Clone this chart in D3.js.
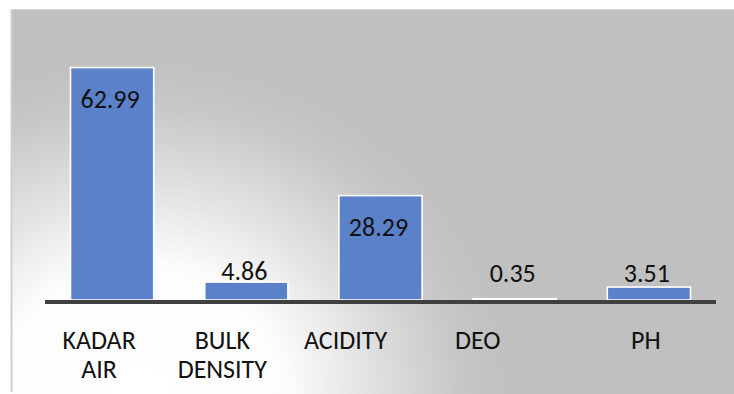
<!DOCTYPE html>
<html>
<head>
<meta charset="utf-8">
<script src="https://cdn.jsdelivr.net/npm/d3@7"></script>
<style>
  html, body { margin: 0; padding: 0; background: #ffffff; }
  svg { display: block; }
  text { font-family: Carlito, Calibri, Lato, "Noto Sans", sans-serif; fill: #111111; }
</style>
</head>
<body>
<svg id="chart" width="734" height="394"></svg>
<script>
// Category labels (each entry is one label, split into lines)
const categories = ["KADAR AIR", "BULK DENSITY", "ACIDITY", "DEO", "PH"];
const categoryLines = [["KADAR", "AIR"], ["BULK", "DENSITY"], ["ACIDITY"], ["DEO"], ["PH"]];
// Measured values
const values = [62.99, 4.86, 28.29, 0.35, 3.51];
// Value axis extent (axis itself is hidden)
const valueDomain = [0, 70];
// Horizontal nudge of each category label relative to its bar centre
const labelNudge = [-13, -24, -35, -37, -3];

const W = 734, H = 394;
const panel = { x: 11, y: 9 };
const plot = { left: 45, right: 716, top: 41.7, bottom: 300 };
const fontSize = 26;

const svg = d3.select("#chart");
const defs = svg.append("defs");

// Soft radial light from the lower left of the panel
const grad = defs.append("radialGradient")
  .attr("id", "bg")
  .attr("gradientUnits", "userSpaceOnUse")
  .attr("cx", 140).attr("cy", 400).attr("r", 340)
  .attr("gradientTransform", "translate(140,400) scale(1.08,1) translate(-140,-400)");
[[0, "#ffffff"], [0.4, "#fcfcfc"], [0.64, "#e0e0e0"], [0.86, "#c8c8c8"], [1, "#c0c0c0"]]
  .forEach(([o, c]) => grad.append("stop").attr("offset", o).attr("stop-color", c));

svg.append("rect")
  .attr("x", panel.x).attr("y", panel.y)
  .attr("width", W - panel.x).attr("height", H - panel.y)
  .attr("fill", "url(#bg)");
// panel frame (left and top edges)
svg.append("line")
  .attr("x1", panel.x + 0.5).attr("x2", panel.x + 0.5)
  .attr("y1", panel.y).attr("y2", H - 2)
  .attr("stroke", "#cfcfcf").attr("stroke-width", 2);
svg.append("line")
  .attr("x1", panel.x).attr("x2", W)
  .attr("y1", panel.y + 0.5).attr("y2", panel.y + 0.5)
  .attr("stroke", "#d6d6d6").attr("stroke-width", 1);

const x = d3.scaleBand()
  .domain(categories)
  .range([plot.left, plot.right])
  .paddingInner(0.38)
  .paddingOuter(0.19);

const y = d3.scaleLinear()
  .domain(valueDomain)
  .range([plot.bottom, plot.top]);

const data = categories.map((c, i) => ({ cat: c, v: values[i], lines: categoryLines[i], nudge: labelNudge[i] }));

// Bars
svg.append("g").selectAll("rect")
  .data(data)
  .join("rect")
  .attr("x", d => x(d.cat))
  .attr("y", d => y(d.v))
  .attr("width", x.bandwidth())
  .attr("height", d => y(0) - y(d.v))
  .attr("fill", "#5a81c9")
  .attr("stroke", "#ffffff")
  .attr("stroke-width", 1.6);

// Category axis line
const xAxis = svg.append("g")
  .attr("transform", `translate(0,${y(0) + 2})`)
  .call(d3.axisBottom(x).tickSize(0).tickFormat(""));
xAxis.select(".domain")
  .attr("stroke", "#404040")
  .attr("stroke-width", 4)
  .attr("d", `M${plot.left},0H${plot.right}`);

// Category labels
const catLabels = svg.append("g").selectAll("text")
  .data(data)
  .join("text")
  .attr("text-anchor", "middle")
  .attr("font-size", fontSize)
  .attr("x", d => x(d.cat) + x.bandwidth() / 2 + d.nudge)
  .attr("y", 349);
catLabels.selectAll("tspan")
  .data(d => d.lines.map(l => ({ l, px: x(d.cat) + x.bandwidth() / 2 + d.nudge })))
  .join("tspan")
  .attr("x", t => t.px)
  .attr("dy", (t, i) => i === 0 ? 0 : 29)
  .text(t => t.l);

// Value labels: tall bars carry their value inside the top, short bars above
const fmt = d3.format(".2f");
const outsideRow = y(0) - 18;
svg.append("g").selectAll("text")
  .data(data)
  .join("text")
  .attr("text-anchor", "middle")
  .attr("font-size", fontSize)
  .attr("x", d => x(d.cat) + x.bandwidth() / 2 - 2)
  .attr("y", d => d.v > 20 ? y(d.v) + 40 : Math.min(outsideRow, y(d.v) - 2))
  .text(d => fmt(d.v));
</script>
</body>
</html>
